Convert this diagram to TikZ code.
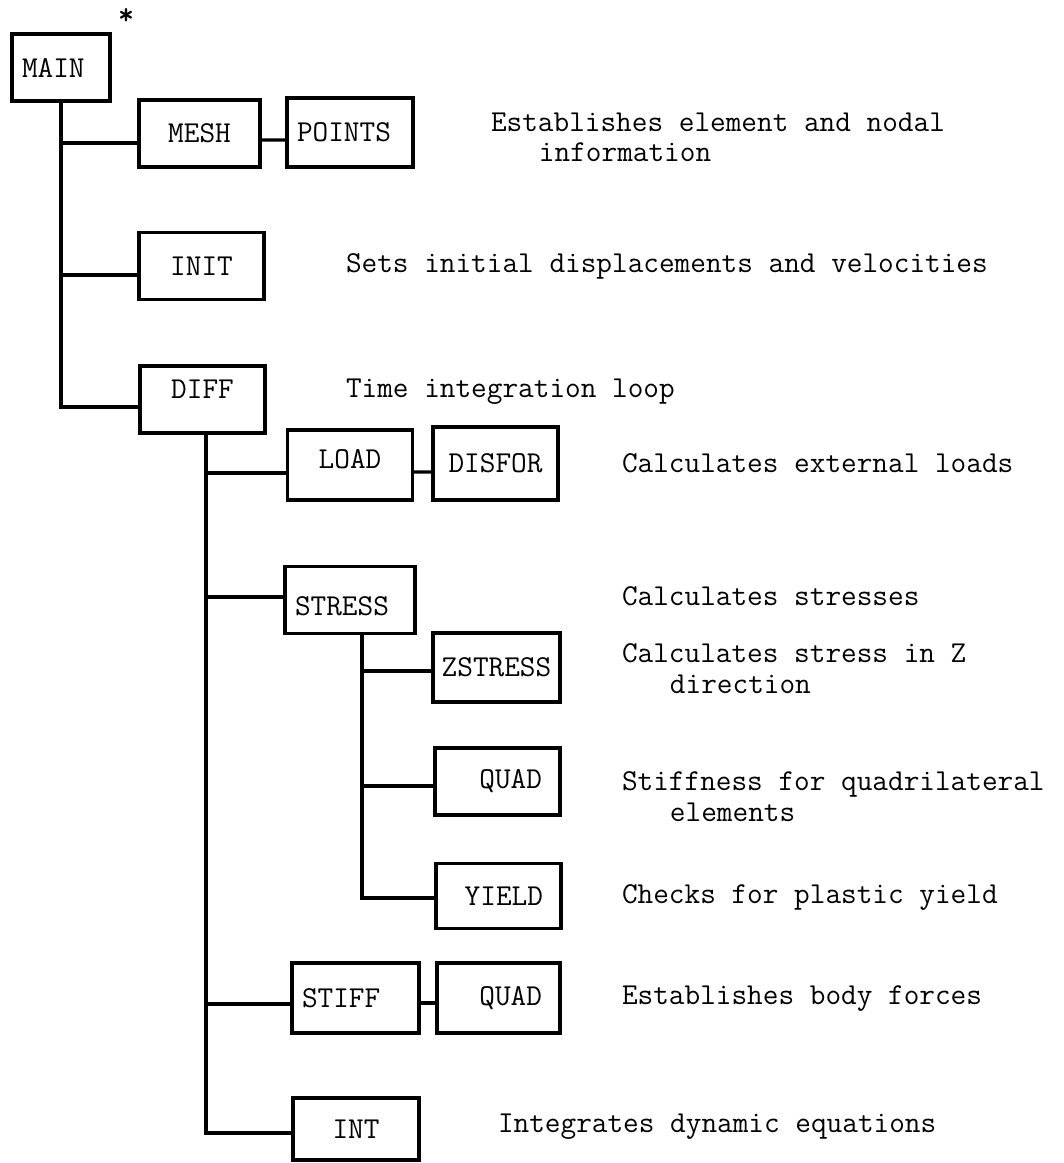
\documentclass[tikz,border=0pt]{standalone}
\usepackage{fontspec}
\usepackage{tikz}

\newcommand{\chartfont}{\ttfamily\fontsize{17.3}{20}\selectfont}

\begin{document}
\begin{tikzpicture}[x=0.02cm,y=-0.02cm,every node/.style={outer sep=0pt},
 box/.style={draw,line width=2pt,minimum height=1.34cm,inner ysep=0pt,
 inner xsep=0.2cm,text width=2.1cm,align=center,font=\chartfont},
 lbox/.style={box,align=left},
 rbox/.style={box,inner xsep=0.36cm,text width=1.78cm,align=right},
 link/.style={line width=1.8pt},
 desc/.style={anchor=base west,inner sep=0pt,font=\chartfont}]

\useasboundingbox (0,0) rectangle (1063,1163);

  \node[lbox,text width=1.56cm] (main) at (61,67.5) {MAIN};
  \node[font=\chartfont\bfseries,inner sep=0pt] (star) at (126,17) {*};

  \node[box,text width=2.02cm] (mesh) at (199.5,133.5) {MESH};
  \node[lbox,text width=2.12cm,minimum height=1.38cm] (points) at (350,132.5) {POINTS};
  \node[box] (init) at (201.5,266) {INIT};
  \node[box,text depth=0.4cm] (diff) at (202.5,399.5) {DIFF};

  \node[box,minimum height=1.4cm,text depth=0.24cm] (load) at (350,465) {LOAD};
  \node[box,minimum height=1.46cm] (disfor) at (495.5,463.5) {DISFOR};
  \node[lbox,text width=2.2cm,text height=0.61cm] (stress) at (350,600) {STRESS};
  \node[box,inner xsep=0.1cm,text width=2.34cm,minimum height=1.38cm] (zstress) at (496.5,667.5) {ZSTRESS};
  \node[rbox] (quad) at (497.5,781.5) {QUAD};
  \node[rbox,minimum height=1.3cm] (yield) at (498.5,896) {YIELD};
  \node[lbox,text width=2.14cm,minimum height=1.4cm] (stiff) at (355.5,998) {STIFF};
  \node[rbox,text width=1.74cm,minimum height=1.4cm] (quadb) at (498.5,998) {QUAD};
  \node[box,text width=2.12cm,minimum height=1.24cm] (int) at (356,1129) {INT};


\draw[link] (main.south) |- ([yshift=-0.19cm]mesh.west);
\draw[link] (main.south) |- ([yshift=-0.18cm]init.west);
\draw[link] (main.south) |- ([yshift=-0.15cm]diff.west);
\draw[link] ([yshift=-0.13cm]mesh.east) -- ([yshift=-0.15cm]points.west);

\coordinate (dsplit) at ([xshift=0.07cm]diff.south);
\draw[link] (dsplit) |- ([yshift=-0.16cm]load.west);
\draw[link] (dsplit) |- ([yshift=0.06cm]stress.west);
\draw[link] (dsplit) |- ([yshift=-0.12cm]stiff.west);
\draw[link] (dsplit) |- ([yshift=-0.08cm]int.west);
\draw[link] ([yshift=-0.14cm]load.east) -- ([yshift=-0.17cm]disfor.west);
\draw[link] ([yshift=-0.1cm]stiff.east) -- ([yshift=-0.1cm]quadb.west);

\coordinate (ssplit) at ([xshift=0.24cm]stress.south);
\draw[link] (ssplit) |- ([yshift=-0.07cm]zstress.west);
\draw[link] (ssplit) |- ([yshift=-0.09cm]quad.west);
\draw[link] (ssplit) |- ([yshift=-0.04cm]yield.west);


  \node[desc] (meshtxt) at (491,131) {Establishes element and nodal};
  \node[desc] (meshtxt2) at ([xshift=0.96cm,yshift=-0.62cm]meshtxt.base west) {information};
  \node[desc] (inittxt) at (346,272) {Sets initial displacements and velocities};
  \node[desc] (difftxt) at (346,397) {Time integration loop};
  \node[desc] (loadtxt) at (622,472) {Calculates external loads};
  \node[desc] (stresstxt) at (622,605) {Calculates stresses};
  \node[desc] (zstresstxt) at (622,662) {Calculates stress in Z};
  \node[desc] (zstresstxt2) at ([xshift=0.96cm,yshift=-0.62cm]zstresstxt.base west) {direction};
  \node[desc] (quadtxt) at (622,790) {Stiffness for quadrilateral};
  \node[desc] (quadtxt2) at ([xshift=0.96cm,yshift=-0.62cm]quadtxt.base west) {elements};
  \node[desc] (yieldtxt) at (622,903) {Checks for plastic yield};
  \node[desc] (stifftxt) at (622,1004) {Establishes body forces};
  \node[desc] (inttxt) at (498,1132) {Integrates dynamic equations};

\end{tikzpicture}
\end{document}
